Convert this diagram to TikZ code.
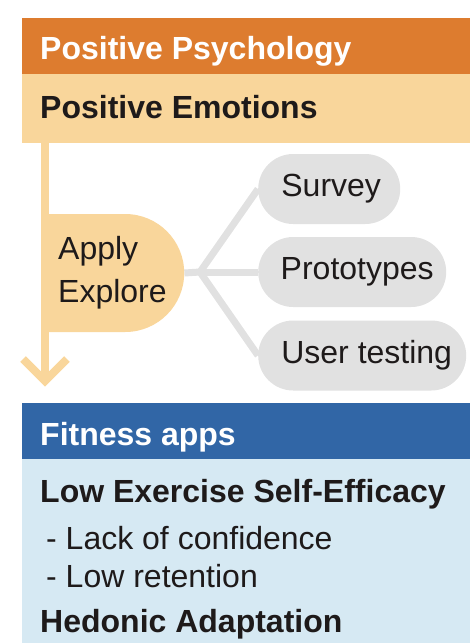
\documentclass[tikz,border=0pt]{standalone}
\usepackage{fontspec}
\setmainfont{Liberation Sans}
\usetikzlibrary{shapes.misc,backgrounds,calc}
\definecolor{hdrorange}{HTML}{DD7C2F}
\definecolor{lightorange}{HTML}{F9D69B}
\definecolor{hdrblue}{HTML}{3166A6}
\definecolor{lightblue}{HTML}{D6E9F3}
\definecolor{pillgray}{HTML}{E1E1E1}
\definecolor{ink}{HTML}{1E1A1A}
\begin{document}
\begin{tikzpicture}[x=1pt,y=-1pt,
  bar/.style={rectangle, anchor=north west, inner sep=0pt, outer sep=0pt,
    minimum width=448pt},
  txt/.style={anchor=base west, inner sep=0pt, text=ink,
    font=\fontsize{32}{43}\selectfont},
  btxt/.style={txt, font=\fontsize{32}{43}\selectfont\bfseries},
  wtxt/.style={btxt, text=white},
  pill/.style={rectangle, rounded corners=35pt, fill=pillgray,
    minimum height=70pt, inner sep=0pt, anchor=west, text=ink,
    font=\fontsize{32}{43}\selectfont},
  branch/.style={draw=pillgray, line width=7pt},
  flow/.style={draw=lightorange, line width=8pt}]
\useasboundingbox (0,0) rectangle (470,643);

% top section: Positive Psychology
\node[bar, fill=hdrorange, minimum height=56pt] (pphdr) at (22,18) {};
\node[bar, fill=lightorange, minimum height=69pt] (emo) at (22,74) {};
\node[wtxt] (pptitle) at (40,59) {Positive Psychology};
\node[btxt] (emotitle) at (40,118) {Positive Emotions};

% downward flow arrow
\coordinate (tip) at (45,381);
\draw[flow] (emo.south -| tip) -- (tip);
\draw[flow, miter limit=10] ($(tip)+(-22,-22)$) -- (tip) -- ($(tip)+(22,-22)$);

% method node and its branches
\node[rounded rectangle, rounded rectangle west arc=none, fill=lightorange,
  minimum height=118pt, minimum width=139pt, inner sep=0pt, anchor=west,
  align=left, text=ink, font=\fontsize{32}{43}\selectfont]
  (apply) at (45,273) {\hspace*{8pt}Apply\\\hspace*{8pt}Explore};

\node[pill, minimum width=142pt] (survey) at (258,189) {\hspace*{4pt}Survey};
\node[pill, minimum width=188pt] (proto) at (258,272) {\hspace*{10pt}Prototypes};
\node[pill, minimum width=208pt] (usertest) at (258,355.5) {\hspace*{9pt}User testing};

\coordinate (fork) at (200,272);
\begin{scope}[on background layer]
  \draw[branch] (apply.east) -- (fork);
  \draw[branch] (fork) -- (survey.west);
  \draw[branch] (fork) -- (proto.west);
  \draw[branch] (fork) -- (usertest.west);
\end{scope}

% bottom section: Fitness apps
\node[bar, fill=hdrblue, minimum height=56pt] (fahdr) at (22,403) {};
\node[bar, fill=lightblue, minimum height=184pt] (fabody) at (22,459) {};
\node[wtxt] (fatitle) at (40,445) {Fitness apps};
\node[btxt] (lese) at (40,502) {Low Exercise Self-Efficacy};
\node[txt] (lack) at (46,549) {- Lack of confidence};
\node[txt] (retain) at (46,587) {- Low retention};
\node[btxt] (hedonic) at (40,632) {Hedonic Adaptation};
\end{tikzpicture}
\end{document}
